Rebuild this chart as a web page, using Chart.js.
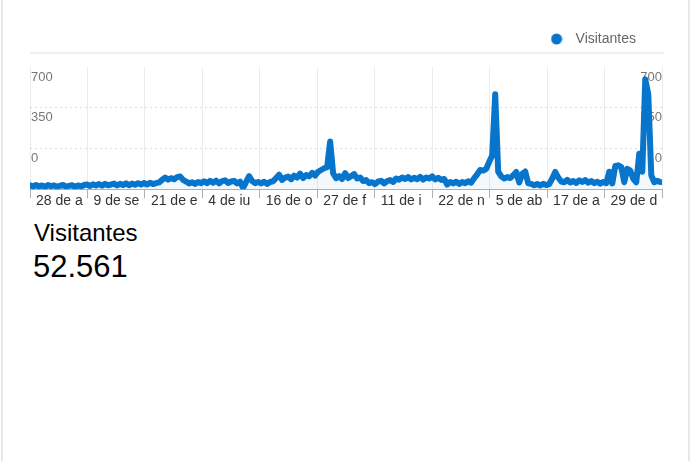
<!DOCTYPE html>
<html>
<head>
<meta charset="utf-8">
<script src="https://cdn.jsdelivr.net/npm/chart.js@4/dist/chart.umd.min.js"></script>
<style>
  body { margin: 0; background: #fff; font-family: 'Liberation Sans', Arial, sans-serif; }
  .card { position: relative; width: 692px; height: 461px; overflow: hidden; }
  .edge { position: absolute; top: 0; bottom: 0; width: 2px; background: #e8e8e8; }
  .chart-box { position: absolute; left: 0; top: 0; width: 692px; height: 207px; }
  .caption { position: absolute; left: 34px; top: 221px; font-size: 24px; line-height: 1; color: #000; }
  .total { position: absolute; left: 33px; top: 251px; font-size: 31px; line-height: 1; color: #000; }
</style>
</head>
<body>
<div class="card">
  <div class="edge" style="left:1px"></div>
  <div class="edge" style="left:688px"></div>
  <div class="chart-box"><canvas id="chart"></canvas></div>
  <div class="caption">Visitantes</div>
  <div class="total">52.561</div>
</div>
<script>
// Tick labels on the time axis (one every 134 days, cut short as in the original)
const xLabels = ['28 de a', '9 de se', '21 de e', '4 de ju', '16 de o', '27 de f', '11 de j', '22 de n', '5 de ab', '17 de a', '29 de d'];
const xTickDays = [0, 134, 268, 402, 536, 670, 804, 938, 1072, 1206, 1340, 1474];

// Value axis ticks and the labels printed beside them
const yTicks = [0, 350, 700, 1050];
const yTickLabels = ['', '0', '350', '700'];

// Visitors, one reading every 7 days
const sampleDays = 7;
const visitors = [
  34, 22, 36, 24, 32, 20, 35, 26, 33, 21, 30, 36, 22, 28, 34, 20, 32, 24, 36,
  40, 28, 42, 32, 44, 30, 46, 34, 40, 48, 32, 46, 36, 50, 34, 48, 38, 52, 40,
  54, 40, 56, 44, 52, 58,
  80, 100, 82, 95, 85, 104, 110, 80,
  66, 50, 60, 46, 62, 52,
  68, 52, 72, 56, 74, 50, 70, 76, 54, 66, 72, 50, 64, 10, 62, 112, 70, 52, 62,
  50, 64, 46, 62, 68,
  96, 125, 80, 100, 108, 86, 116, 100, 134, 96, 122, 110, 140, 118, 150,
  165, 180, 190, 410, 135,
  95, 112, 88, 138, 96, 112, 130,
  92, 100, 70, 78, 52,
  60, 44, 66, 72, 50, 70, 78, 62,
  92, 82, 100, 88, 104, 84, 98, 86, 106, 82, 100, 92, 110, 84, 98, 80, 88,
  40, 62, 50, 64, 46, 62, 52, 68, 56,
  95, 128, 165, 160, 175, 235, 290, 815, 150,
  110, 92, 104, 96,
  120, 148, 58, 132, 152, 50,
  46, 34, 44, 32, 46, 36, 44, 92, 148,
  100, 66, 60, 80, 58, 70, 54, 76, 62, 78, 56, 70, 52, 64, 48, 62, 52,
  150, 50, 200, 205, 190, 60, 175, 160, 90, 60, 305, 150, 945, 815, 120,
  60, 72, 62
];

const seriesName = 'Visitantes';
const blue = '#0875cc';

// Round dot for the legend, on a canvas so the gap to the text can be set
const dot = document.createElement('canvas');
dot.width = 12;
dot.height = 12;
const dctx = dot.getContext('2d');
dctx.fillStyle = blue;
dctx.beginPath();
dctx.arc(6, 6, 5.5, 0, Math.PI * 2);
dctx.fill();

Chart.defaults.font.family = "'Liberation Sans', Arial, sans-serif";

// Extra room under the legend and the thin rule drawn there
const legendGap = 11;
const legendRule = {
  id: 'legendRule',
  beforeLayout(chart) {
    const lg = chart.legend;
    if (lg && !lg._gapPatched) {
      const fit = lg.fit;
      lg.fit = function () {
        fit.call(this);
        this.height += legendGap;
      };
      lg._gapPatched = true;
    }
  },
  beforeDraw(chart) {
    const { ctx, chartArea, legend } = chart;
    const y = legend.bottom - 14;
    ctx.save();
    ctx.strokeStyle = '#efefef';
    ctx.lineWidth = 2;
    ctx.beginPath();
    ctx.moveTo(chartArea.left, y);
    ctx.lineTo(chartArea.right + 2, y);
    ctx.stroke();
    ctx.restore();
  }
};

const yLabel = (value) => yTickLabels[yTicks.indexOf(value)] ?? '';

new Chart(document.getElementById('chart'), {
  type: 'line',
  data: {
    datasets: [{
      label: seriesName,
      data: visitors.map((v, i) => ({ x: i * sampleDays, y: v })),
      borderColor: blue,
      backgroundColor: 'rgba(8, 117, 204, 0.05)',
      borderWidth: 6,
      borderJoinStyle: 'round',
      borderCapStyle: 'round',
      fill: 'origin',
      tension: 0,
      pointRadius: 0
    }]
  },
  options: {
    responsive: true,
    maintainAspectRatio: false,
    animation: false,
    layout: { padding: { left: 28, right: 30, top: 6, bottom: 2 } },
    plugins: {
      legend: {
        position: 'top',
        align: 'end',
        labels: {
          usePointStyle: true,
          pointStyle: dot,
          pointStyleWidth: 24,
          boxHeight: 12,
          padding: 26,
          color: '#666',
          font: { size: 14 }
        }
      },
      tooltip: { enabled: false }
    },
    scales: {
      x: {
        type: 'linear',
        min: xTickDays[0],
        max: xTickDays[xTickDays.length - 1],
        afterBuildTicks: (axis) => { axis.ticks = xTickDays.map((d) => ({ value: d })); },
        grid: { color: '#ebebeb', tickColor: '#b0b0b0', tickLength: 9 },
        border: { display: true, color: '#b0b0b0' },
        ticks: {
          autoSkip: false,
          maxRotation: 0,
          align: 'start',
          labelOffset: 6,
          padding: -5,
          color: '#333',
          font: { size: 14 },
          callback: (value) => xLabels[xTickDays.indexOf(value)] ?? ''
        }
      },
      y: {
        min: yTicks[0],
        max: yTicks[yTicks.length - 1],
        afterBuildTicks: (axis) => { axis.ticks = yTicks.map((v) => ({ value: v })); },
        grid: {
          drawTicks: false,
          color: (ctx) => (ctx.tick && (ctx.tick.value === 0 || ctx.tick.value === 1050)) ? 'rgba(0,0,0,0)' : '#dadada'
        },
        border: { display: false, dash: [2, 3] },
        ticks: { mirror: true, padding: 1, labelOffset: 10, color: '#777', font: { size: 13 }, callback: yLabel }
      },
      y2: {
        position: 'right',
        min: yTicks[0],
        max: yTicks[yTicks.length - 1],
        afterBuildTicks: (axis) => { axis.ticks = yTicks.map((v) => ({ value: v })); },
        grid: { display: false, drawTicks: false },
        border: { display: false },
        ticks: { mirror: true, padding: 0, labelOffset: 10, color: '#777', font: { size: 13 }, callback: yLabel }
      }
    }
  },
  plugins: [legendRule]
});
</script>
</body>
</html>
